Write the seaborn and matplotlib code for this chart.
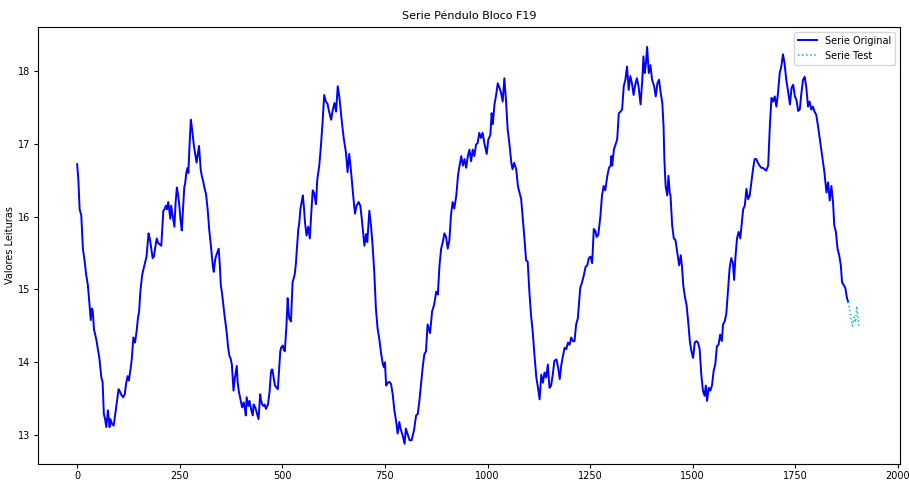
import matplotlib
matplotlib.use("Agg")
import matplotlib.pyplot as plt
import seaborn as sns
import pandas as pd

# sample index / reading pairs
orig_idx = [0, 3, 6, 10, 14, 18, 22, 26, 30, 33, 36, 38, 41, 44, 47, 50, 54, 57, 59, 62,
            65, 68, 71, 75, 79, 81, 85, 89, 94, 101, 104, 108, 112, 116, 119, 123, 126, 130, 133, 137,
            141, 145, 148, 151, 154, 158, 160, 166, 169, 174, 177, 181, 184, 187, 191, 194, 197, 201, 205, 208,
            210, 213, 216, 219, 222, 227, 229, 233, 237, 240, 243, 246, 249, 252, 255, 258, 261, 263, 266, 269,
            271, 274, 277, 279, 282, 285, 288, 291, 294, 297, 301, 304, 307, 310, 314, 318, 322, 325, 328, 331,
            333, 335, 337, 341, 345, 348, 350, 353, 356, 359, 364, 368, 371, 374, 377, 381, 384, 389, 391, 394,
            397, 399, 402, 406, 409, 411, 413, 417, 420, 424, 428, 430, 434, 438, 442, 446, 448, 451, 454, 457,
            460, 465, 469, 472, 474, 476, 479, 482, 486, 489, 492, 495, 497, 501, 503, 506, 510, 513, 515, 517,
            521, 525, 530, 533, 535, 539, 541, 544, 547, 550, 553, 555, 559, 563, 567, 570, 574, 577, 582, 585,
            590, 594, 598, 602, 606, 610, 614, 619, 622, 627, 631, 635, 639, 643, 646, 650, 655, 659, 663, 667,
            672, 677, 681, 686, 690, 693, 696, 700, 704, 707, 710, 712, 716, 720, 724, 728, 732, 737, 741, 745,
            748, 750, 753, 757, 761, 765, 769, 773, 777, 781, 785, 789, 793, 798, 801, 805, 810, 815, 821, 826,
            830, 834, 838, 842, 846, 850, 854, 860, 865, 870, 875, 879, 883, 887, 891, 895, 899, 903, 907, 911,
            915, 919, 924, 928, 931, 936, 940, 944, 948, 952, 956, 960, 964, 968, 972, 976, 980, 984, 988, 993,
            998, 1002, 1007, 1010, 1013, 1017, 1021, 1025, 1029, 1033, 1037, 1041, 1045, 1049, 1053, 1058, 1061, 1065, 1070, 1074,
            1078, 1082, 1086, 1090, 1094, 1098, 1102, 1106, 1110, 1115, 1119, 1123, 1127, 1131, 1135, 1139, 1143, 1147, 1151, 1155,
            1159, 1163, 1168, 1172, 1176, 1180, 1184, 1188, 1192, 1196, 1200, 1204, 1208, 1212, 1216, 1220, 1223, 1226, 1231, 1235,
            1239, 1243, 1247, 1251, 1255, 1259, 1263, 1266, 1270, 1275, 1279, 1283, 1287, 1292, 1296, 1300, 1302, 1304, 1308, 1312,
            1316, 1320, 1324, 1328, 1332, 1336, 1340, 1344, 1348, 1352, 1356, 1360, 1364, 1368, 1373, 1377, 1380, 1383, 1386, 1389,
            1393, 1397, 1401, 1406, 1410, 1414, 1418, 1422, 1426, 1429, 1431, 1434, 1438, 1441, 1444, 1446, 1450, 1454, 1458, 1462,
            1467, 1471, 1474, 1477, 1481, 1485, 1489, 1493, 1497, 1501, 1505, 1509, 1513, 1517, 1521, 1525, 1529, 1532, 1535, 1539,
            1543, 1547, 1551, 1555, 1559, 1563, 1567, 1571, 1574, 1578, 1582, 1586, 1590, 1594, 1598, 1601, 1604, 1608, 1612, 1616,
            1620, 1623, 1627, 1631, 1635, 1639, 1643, 1647, 1651, 1655, 1659, 1663, 1667, 1671, 1675, 1679, 1684, 1688, 1692, 1696,
            1700, 1704, 1708, 1712, 1716, 1720, 1724, 1728, 1733, 1737, 1741, 1745, 1749, 1753, 1757, 1761, 1765, 1769, 1773, 1777,
            1781, 1785, 1789, 1793, 1797, 1801, 1805, 1809, 1813, 1817, 1821, 1826, 1830, 1834, 1838, 1842, 1845, 1849, 1853, 1857,
            1861, 1864, 1868, 1872, 1876, 1879]
orig_val = [16.72, 16.5, 16.1, 16.02, 15.56, 15.4, 15.2, 15.06, 14.8, 14.58, 14.74, 14.7, 14.45, 14.38, 14.3, 14.2, 14.06, 13.9, 13.79, 13.73,
            13.29, 13.22, 13.11, 13.34, 13.11, 13.22, 13.15, 13.13, 13.34, 13.63, 13.6, 13.55, 13.52, 13.56, 13.7, 13.81, 13.75, 13.9, 14.04, 14.34,
            14.27, 14.43, 14.6, 14.7, 14.97, 15.18, 15.24, 15.38, 15.45, 15.77, 15.7, 15.55, 15.43, 15.45, 15.6, 15.7, 15.64, 15.62, 15.6, 15.9,
            16.08, 16.1, 16.15, 16.1, 16.2, 15.97, 16.15, 16.0, 15.86, 16.2, 16.4, 16.3, 16.15, 15.95, 15.81, 16.1, 16.4, 16.45, 16.6, 16.67,
            16.6, 17.0, 17.33, 17.25, 17.1, 16.95, 16.85, 16.74, 16.85, 16.97, 16.65, 16.55, 16.49, 16.4, 16.31, 16.1, 15.81, 15.65, 15.47, 15.3,
            15.24, 15.35, 15.43, 15.5, 15.56, 15.3, 15.06, 14.95, 14.8, 14.65, 14.43, 14.2, 14.09, 14.05, 13.97, 13.61, 13.77, 13.95, 13.73, 13.6,
            13.52, 13.47, 13.38, 13.45, 13.35, 13.27, 13.52, 13.4, 13.47, 13.35, 13.27, 13.42, 13.38, 13.3, 13.22, 13.56, 13.48, 13.42, 13.4, 13.42,
            13.36, 13.42, 13.6, 13.85, 13.9, 13.9, 13.78, 13.68, 13.65, 13.63, 13.9, 14.15, 14.2, 14.23, 14.18, 14.15, 14.5, 14.88, 14.7, 14.6,
            14.56, 15.1, 15.2, 15.35, 15.52, 15.83, 15.9, 16.1, 16.2, 16.29, 16.1, 15.93, 15.74, 15.86, 15.7, 16.0, 16.36, 16.33, 16.17, 16.5,
            16.7, 16.97, 17.29, 17.67, 17.58, 17.55, 17.44, 17.33, 17.44, 17.56, 17.44, 17.79, 17.64, 17.42, 17.25, 17.06, 16.88, 16.61, 16.86, 16.65,
            16.33, 16.04, 16.15, 16.2, 16.15, 16.0, 15.83, 15.6, 15.76, 15.65, 15.9, 16.08, 15.88, 15.6, 15.24, 14.74, 14.47, 14.29, 14.11, 13.97,
            13.93, 14.0, 13.68, 13.72, 13.73, 13.7, 13.56, 13.34, 13.2, 13.02, 13.18, 13.07, 13.0, 12.88, 13.09, 13.02, 12.93, 12.93, 13.07, 13.27,
            13.29, 13.47, 13.7, 13.93, 14.11, 14.15, 14.52, 14.4, 14.7, 14.79, 14.97, 14.93, 15.33, 15.56, 15.65, 15.77, 15.72, 15.56, 15.67, 16.02,
            16.2, 16.11, 16.29, 16.56, 16.67, 16.83, 16.7, 16.79, 16.67, 16.83, 16.92, 16.76, 16.92, 16.83, 16.99, 17.01, 17.15, 17.08, 17.15, 16.99,
            16.86, 17.06, 17.12, 17.42, 17.27, 17.54, 17.67, 17.83, 17.77, 17.7, 17.58, 17.9, 17.6, 17.2, 17.02, 16.74, 16.65, 16.74, 16.65, 16.42,
            16.33, 16.24, 15.97, 15.7, 15.4, 15.38, 14.97, 14.65, 14.43, 14.06, 13.79, 13.65, 13.49, 13.83, 13.72, 13.86, 13.79, 13.97, 13.65, 13.68,
            13.83, 14.02, 14.04, 13.93, 13.77, 13.97, 14.09, 14.2, 14.18, 14.27, 14.24, 14.34, 14.29, 14.29, 14.52, 14.6, 14.81, 15.02, 15.11, 15.2,
            15.31, 15.33, 15.43, 15.45, 15.36, 15.83, 15.8, 15.72, 15.75, 16.0, 16.29, 16.42, 16.36, 16.56, 16.67, 16.7, 16.83, 16.7, 16.92, 16.99,
            17.06, 17.42, 17.44, 17.47, 17.79, 17.88, 18.06, 17.74, 17.93, 17.83, 17.67, 17.81, 17.9, 17.79, 17.54, 17.86, 18.2, 17.97, 18.1, 18.33,
            17.97, 18.08, 17.88, 17.79, 17.65, 17.83, 17.88, 17.7, 17.56, 17.24, 16.79, 16.42, 16.29, 16.56, 16.33, 16.29, 15.88, 15.7, 15.68, 15.52,
            15.33, 15.47, 15.31, 15.06, 14.9, 14.79, 14.56, 14.29, 14.15, 14.06, 14.27, 14.29, 14.27, 14.18, 13.83, 13.61, 13.54, 13.68, 13.47, 13.65,
            13.61, 13.68, 13.88, 13.97, 14.22, 14.24, 14.38, 14.29, 14.52, 14.56, 14.67, 14.97, 15.29, 15.43, 15.36, 15.13, 15.43, 15.7, 15.79, 15.7,
            15.93, 16.1, 16.15, 16.38, 16.24, 16.29, 16.47, 16.65, 16.79, 16.79, 16.74, 16.7, 16.67, 16.67, 16.65, 16.63, 16.7, 17.24, 17.63, 17.58,
            17.65, 17.51, 17.7, 17.97, 18.06, 18.23, 18.1, 17.88, 17.7, 17.54, 17.77, 17.81, 17.65, 17.6, 17.45, 17.47, 17.7, 17.88, 17.92, 17.77,
            17.51, 17.58, 17.47, 17.51, 17.44, 17.4, 17.26, 17.1, 16.95, 16.79, 16.61, 16.33, 16.47, 16.22, 16.42, 16.2, 15.88, 15.79, 15.56, 15.47,
            15.33, 15.1, 15.06, 15.02, 14.88, 14.83]

test_idx = [1879, 1884, 1889, 1894, 1897, 1900, 1903, 1905]
test_val = [14.83, 14.66, 14.5, 14.62, 14.55, 14.77, 14.6, 14.5]

df_orig = pd.DataFrame({'idx': orig_idx, 'val': orig_val})
df_test = pd.DataFrame({'idx': test_idx, 'val': test_val})

fig, ax = plt.subplots(figsize=(9.09, 4.83), dpi=100)
sns.lineplot(data=df_orig, x='idx', y='val', color='b', linewidth=1.4,
             label='Serie Original', ax=ax)
sns.lineplot(data=df_test, x='idx', y='val', color='c', linestyle=':',
             linewidth=1.1, label='Serie Test', ax=ax)

ax.set_title('Serie Péndulo Bloco F19', fontsize=8)
ax.set_xlabel('')
ax.set_ylabel('Valores Leituras', fontsize=7, labelpad=2)
ax.tick_params(labelsize=7, length=3, pad=2.5)
ax.set_xticks([0, 250, 500, 750, 1000, 1250, 1500, 1750, 2000])
ax.set_xlim(-95, 2005)
ax.legend(loc='upper right', fontsize=7)

fig.subplots_adjust(left=0.042, right=0.99, top=0.944, bottom=0.04)
fig.savefig('out.png', dpi=100)
